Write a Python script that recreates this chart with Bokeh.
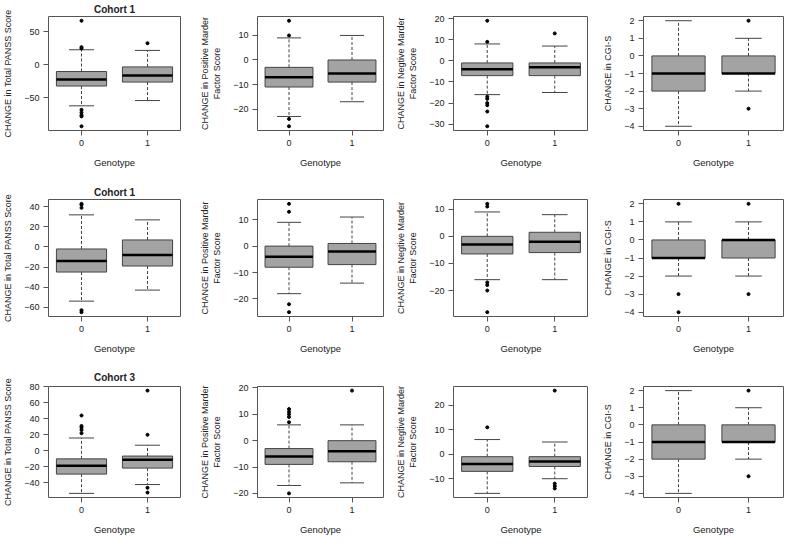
from bokeh.plotting import figure
from bokeh.layouts import gridplot
from bokeh.models import Range1d, FixedTicker, LinearAxis
from bokeh.embed import file_html
from bokeh.resources import INLINE

# ---------------- data ----------------
genotypes = [0, 1]
genotype_labels = {0: "0", 1: "1"}

row_titles = ["Cohort 1", "Cohort 1", "Cohort 3"]
y_labels = [
    "CHANGE in Total PANSS Score",
    "CHANGE in Positive Marder\nFactor Score",
    "CHANGE in Negtive Marder\nFactor Score",
    "CHANGE in CGI-S",
]
x_label = "Genotype"

# panels in row-major order (3 rows x 4 columns); each entry = [genotype 0, genotype 1]
whisker_low = [
    [-62, -54], [-23, -17], [-16, -15], [-4, -2],
    [-54, -43], [-18, -14], [-16, -16], [-2, -2],
    [-53, -42], [-17, -16], [-16, -10], [-4, -2],
]
quartile1 = [
    [-32, -26], [-11, -9], [-7, -7], [-2, -1],
    [-25, -19], [-8, -7], [-6.5, -6], [-1, -1],
    [-29, -21.5], [-9, -8], [-7, -5], [-2, -1],
]
median = [
    [-22, -16], [-7, -5.5], [-4, -3], [-1, -1],
    [-14, -8], [-4, -2], [-3, -2], [-1, 0],
    [-18.5, -11], [-6, -4], [-4, -3], [-1, -1],
]
quartile3 = [
    [-10, -3], [-3, 0], [-1, -1], [0, 0],
    [-2, 7], [0, 1], [0, 1.5], [0, 0],
    [-10, -6.5], [-3, 0], [-1, -1], [0, 0],
]
whisker_high = [
    [23, 22], [9, 10], [8, 7], [2, 1],
    [32, 27], [9, 11], [9, 8], [1, 1],
    [16, 7], [6, 6], [6, 5], [2, 1],
]
outliers_g0 = [
    [67, 27, 25, -68, -72, -76, -78, -93], [16, 10, -24, -27], [19, 9, -17, -18, -20, -21, -24, -31], [],
    [43, 42, 39, -63, -65], [16, 13, -22, -25], [12, 11, -17, -18, -20, -28], [2, -3, -4],
    [44, 31, 29, 26, 22], [12, 11, 10, 9, 7, -20], [11], [],
]
outliers_g1 = [
    [33], [], [13], [2, -3],
    [], [], [], [2, -3],
    [75, 20, -46, -52], [19], [26, -12, -13, -14], [2, -3],
]
y_ticks = [
    [-50, 0, 50], [-20, -10, 0, 10], [-30, -20, -10, 0, 10, 20], [-4, -3, -2, -1, 0, 1, 2],
    [-60, -40, -20, 0, 20, 40], [-20, -10, 0, 10], [-20, -10, 0, 10], [-4, -3, -2, -1, 0, 1, 2],
    [-40, -20, 0, 20, 40, 60, 80], [-20, -10, 0, 10, 20], [-10, 0, 10, 20], [-4, -3, -2, -1, 0, 1, 2],
]

# ---------------- style / layout ----------------
FONT = "Liberation Sans"
TEXT = "#222222"
FRAME = "#555555"
BOX_FILL = "#a3a3a3"
BOX_LINE = "#444444"
BOX_W = 0.76
STAPLE_W = 0.38

W = 196
H = 179
col_left = [40, 47, 56, 55]
col_right = [16, 9, 0, 1]
row_top = [15, 20, 28]
row_bottom = [49, 42, 36]
title_standoff = [3, 4, 7]


def style_axis(ax):
    ax.axis_line_color = None
    ax.major_tick_line_color = FRAME
    ax.major_tick_in = 0
    ax.major_tick_out = 5
    ax.minor_tick_line_color = None
    ax.major_label_text_font = FONT
    ax.major_label_text_font_size = "9px"
    ax.major_label_text_color = TEXT
    ax.major_label_standoff = 4
    ax.axis_label_text_font = FONT
    ax.axis_label_text_font_style = "normal"
    ax.axis_label_text_color = TEXT


def make_panel(r, c):
    i = r * 4 + c
    vals = whisker_low[i] + whisker_high[i] + outliers_g0[i] + outliers_g1[i]
    lo, hi = min(vals), max(vals)
    pad = (hi - lo) * 0.04
    p = figure(
        width=W, height=H,
        x_range=Range1d(-0.5, 1.5), y_range=Range1d(lo - pad, hi + pad),
        output_backend="svg", toolbar_location=None, tools="",
        min_border_left=col_left[c], min_border_right=col_right[c],
        min_border_top=row_top[r], min_border_bottom=row_bottom[r],
        title=row_titles[r] if c == 0 else None,
    )
    p.background_fill_color = "white"
    p.border_fill_color = "white"
    p.outline_line_color = FRAME
    p.outline_line_width = 1
    p.grid.visible = False
    if c == 0:
        p.title.text_font = FONT
        p.title.text_font_size = "10px"
        p.title.text_font_style = "bold"
        p.title.text_color = TEXT
        p.title.align = "center"
        p.title.standoff = title_standoff[r]

    style_axis(p.xaxis[0])
    style_axis(p.yaxis[0])

    p.xaxis.ticker = FixedTicker(ticks=genotypes)
    p.xaxis.major_label_overrides = genotype_labels
    p.xaxis.axis_label = x_label
    p.xaxis.axis_label_text_font_size = "9.5px"
    p.xaxis.axis_label_standoff = 8

    lines = y_labels[c].split("\n")
    p.yaxis.ticker = FixedTicker(ticks=y_ticks[i])
    p.yaxis.axis_label = lines[-1]
    p.yaxis.axis_label_text_font_size = "9px"
    p.yaxis.axis_label_standoff = 8
    if len(lines) > 1:
        outer = LinearAxis(ticker=FixedTicker(ticks=[]), axis_label=lines[0])
        style_axis(outer)
        outer.major_tick_out = 0
        outer.major_label_standoff = 0
        outer.major_label_text_font_size = "0px"
        outer.axis_label_text_font_size = "9px"
        outer.axis_label_standoff = 0
        p.add_layout(outer, "left")

    q1, md, q3 = quartile1[i], median[i], quartile3[i]
    wl, wh = whisker_low[i], whisker_high[i]
    x0b = [g - STAPLE_W / 2 for g in genotypes]
    x1b = [g + STAPLE_W / 2 for g in genotypes]
    x0m = [g - BOX_W / 2 for g in genotypes]
    x1m = [g + BOX_W / 2 for g in genotypes]

    # whiskers (dashed)
    p.segment(x0=genotypes, x1=genotypes, y0=q3, y1=wh, line_color=BOX_LINE, line_dash="3 2", line_width=1)
    p.segment(x0=genotypes, x1=genotypes, y0=q1, y1=wl, line_color=BOX_LINE, line_dash="3 2", line_width=1)
    # staples
    p.segment(x0=x0b, x1=x1b, y0=wh, y1=wh, line_color=BOX_LINE, line_width=1)
    p.segment(x0=x0b, x1=x1b, y0=wl, y1=wl, line_color=BOX_LINE, line_width=1)
    # boxes
    p.vbar(x=genotypes, width=BOX_W, top=q3, bottom=q1, fill_color=BOX_FILL, line_color=BOX_LINE, line_width=1)
    # medians
    p.segment(x0=x0m, x1=x1m, y0=md, y1=md, line_color="black", line_width=2.5)
    # outliers
    ox = [genotypes[0]] * len(outliers_g0[i]) + [genotypes[1]] * len(outliers_g1[i])
    oy = outliers_g0[i] + outliers_g1[i]
    if oy:
        p.scatter(x=ox, y=oy, size=3, fill_color="black", line_color="black")
    return p


rows = [[make_panel(r, c) for c in range(4)] for r in range(3)]
grid = gridplot(rows, toolbar_location=None)

open("out.html", "w").write(file_html(grid, INLINE))
